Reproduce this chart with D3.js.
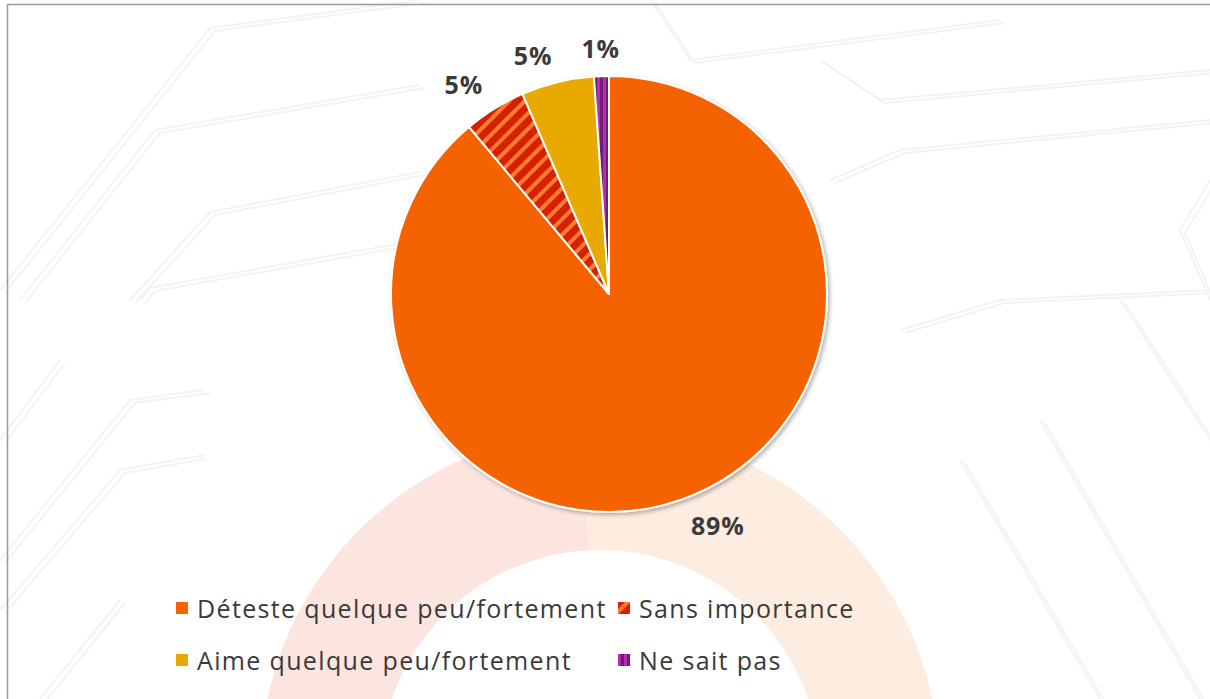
<!DOCTYPE html>
<html>
<head>
<meta charset="utf-8">
<script src="https://cdn.jsdelivr.net/npm/d3@7"></script>
<style>
  html, body { margin: 0; padding: 0; background: #fff; }
  svg { display: block; }
</style>
</head>
<body>
<div id="chart"></div>
<script>
// data
const categories = ["Déteste quelque peu/fortement", "Sans importance", "Aime quelque peu/fortement", "Ne sait pas"];
const values = [88.9, 4.6, 5.4, 1.1];
const fills = ["#f56200", "url(#stripeRed)", "#e8aa00", "url(#stripePurple)"];
const legendOrder = [0, 1, 2, 3];

const width = 1210, height = 699;
const cx = 609, cy = 294, radius = 218;

const svg = d3.select("#chart").append("svg")
  .attr("width", width)
  .attr("height", height)
  .style("font-family", "'Open Sans', sans-serif");

const defs = svg.append("defs");

// diagonal red/orange stripes
const pRed = defs.append("pattern")
  .attr("id", "stripeRed")
  .attr("patternUnits", "userSpaceOnUse")
  .attr("width", 11).attr("height", 11)
  .attr("patternTransform", "rotate(45)");
pRed.append("rect").attr("width", 11).attr("height", 11).attr("fill", "#d42200");
pRed.append("rect").attr("width", 4).attr("height", 11).attr("fill", "#ff7a30");

// vertical purple stripes
const pPur = defs.append("pattern")
  .attr("id", "stripePurple")
  .attr("patternUnits", "userSpaceOnUse")
  .attr("width", 6).attr("height", 6);
pPur.append("rect").attr("width", 6).attr("height", 6).attr("fill", "#6f1a70");
pPur.append("rect").attr("width", 3).attr("height", 6).attr("fill", "#b02db4");

const shadow = defs.append("filter").attr("id", "shadow")
  .attr("x", "-10%").attr("y", "-10%").attr("width", "120%").attr("height", "120%");
shadow.append("feDropShadow")
  .attr("dx", 2).attr("dy", 2).attr("stdDeviation", 2)
  .attr("flood-color", "#000").attr("flood-opacity", 0.3);

// faint background decoration
const bg = svg.append("g").attr("fill", "none").attr("stroke", "#f3f3f3").attr("stroke-width", 2);
const bgLines = [
  [[0, 290], [210, 28], [420, 0]],
  [[20, 300], [155, 130], [420, 85]],
  [[130, 300], [210, 212], [420, 172]],
  [[140, 300], [150, 288], [420, 240]],
  [[0, 560], [130, 400], [205, 390]],
  [[0, 610], [120, 470], [205, 455]],
  [[650, 0], [690, 60], [1000, 20]],
  [[820, 60], [880, 100], [1210, 70]],
  [[830, 180], [900, 150], [1210, 120]],
  [[1210, 180], [1180, 230], [1210, 300]],
  [[900, 330], [1000, 300], [1210, 290]],
  [[960, 460], [1100, 699]],
  [[1040, 420], [1200, 699]],
  [[1120, 300], [1210, 440]],
  [[0, 440], [60, 360]],
  [[40, 699], [120, 600]]
];
bgLines.forEach(pts => {
  bg.append("path").attr("d", d3.line()(pts));
  bg.append("path").attr("d", d3.line()(pts.map(p => [p[0] + 5, p[1] + 3])));
});
svg.append("rect").attr("x", 205).attr("y", 440).attr("width", 752).attr("height", 259).attr("fill", "#fff");

// faint ring watermark behind the chart
const ring = svg.append("g").attr("transform", `translate(600,770)`);
const ringArc = d3.arc().innerRadius(220).outerRadius(340);
ring.append("path").attr("fill", "#fde5df")
  .attr("d", ringArc({ startAngle: -1.9, endAngle: -0.05 }));
ring.append("path").attr("fill", "#fdece0")
  .attr("d", ringArc({ startAngle: -0.05, endAngle: 1.9 }));
ring.append("path").attr("fill", "#fdece0")
  .attr("d", ringArc({ startAngle: -2.2, endAngle: -1.75 }));

// frame
svg.append("rect")
  .attr("x", 7.5).attr("y", 4.5)
  .attr("width", width).attr("height", height)
  .attr("fill", "none").attr("stroke", "#9a9a9a").attr("stroke-width", 1.5);

// pie
const pie = d3.pie().sort(null).value(d => d);
const arcs = pie(values);
const arc = d3.arc().innerRadius(0).outerRadius(radius);

const g = svg.append("g").attr("transform", `translate(${cx},${cy})`);
g.append("g").attr("filter", "url(#shadow)")
  .selectAll("path")
  .data(arcs)
  .join("path")
  .attr("d", arc)
  .attr("fill", (d, i) => fills[i])
  .attr("stroke", "#fff")
  .attr("stroke-width", 2)
  .attr("stroke-linejoin", "round");

// outside-end labels
const labelArc = d3.arc().innerRadius(radius + 22).outerRadius(radius + 22);
const total = d3.sum(values);
g.selectAll("text.lbl")
  .data(arcs)
  .join("text")
  .attr("class", "lbl")
  .each(function (d) {
    const mid = (d.startAngle + d.endAngle) / 2;
    const [x, y] = labelArc.centroid(d);
    const s = Math.sin(mid), c = Math.cos(mid);
    d3.select(this)
      .attr("x", x)
      .attr("y", y)
      .attr("dy", c > 0 ? "0.15em" : "0.6em")
      .attr("text-anchor", Math.abs(s) < 0.1 ? "middle" : (s > 0 ? "start" : "end"));
  })
  .attr("font-size", 25)
  .attr("font-weight", "bold")
  .attr("letter-spacing", 0.8)
  .attr("fill", "#3a3a3a")
  .text(d => Math.round(d.data / total * 100) + "%");

// legend
const legendX = d3.scalePoint().domain([0, 1]).range([176, 618]);
const legendY = d3.scalePoint().domain([0, 1]).range([609, 661]);
const legend = svg.append("g").selectAll("g")
  .data(legendOrder)
  .join("g")
  .attr("transform", (d, i) => `translate(${legendX(i % 2)},${legendY(Math.floor(i / 2))})`);
legend.append("rect")
  .attr("x", 0).attr("y", -7)
  .attr("width", 12).attr("height", 12)
  .attr("fill", d => fills[d]);
legend.append("text")
  .attr("x", 21)
  .attr("dy", "0.35em")
  .attr("font-size", 25)
  .attr("letter-spacing", 1.35)
  .attr("fill", "#3a3a3a")
  .text(d => categories[d]);
</script>
</body>
</html>
